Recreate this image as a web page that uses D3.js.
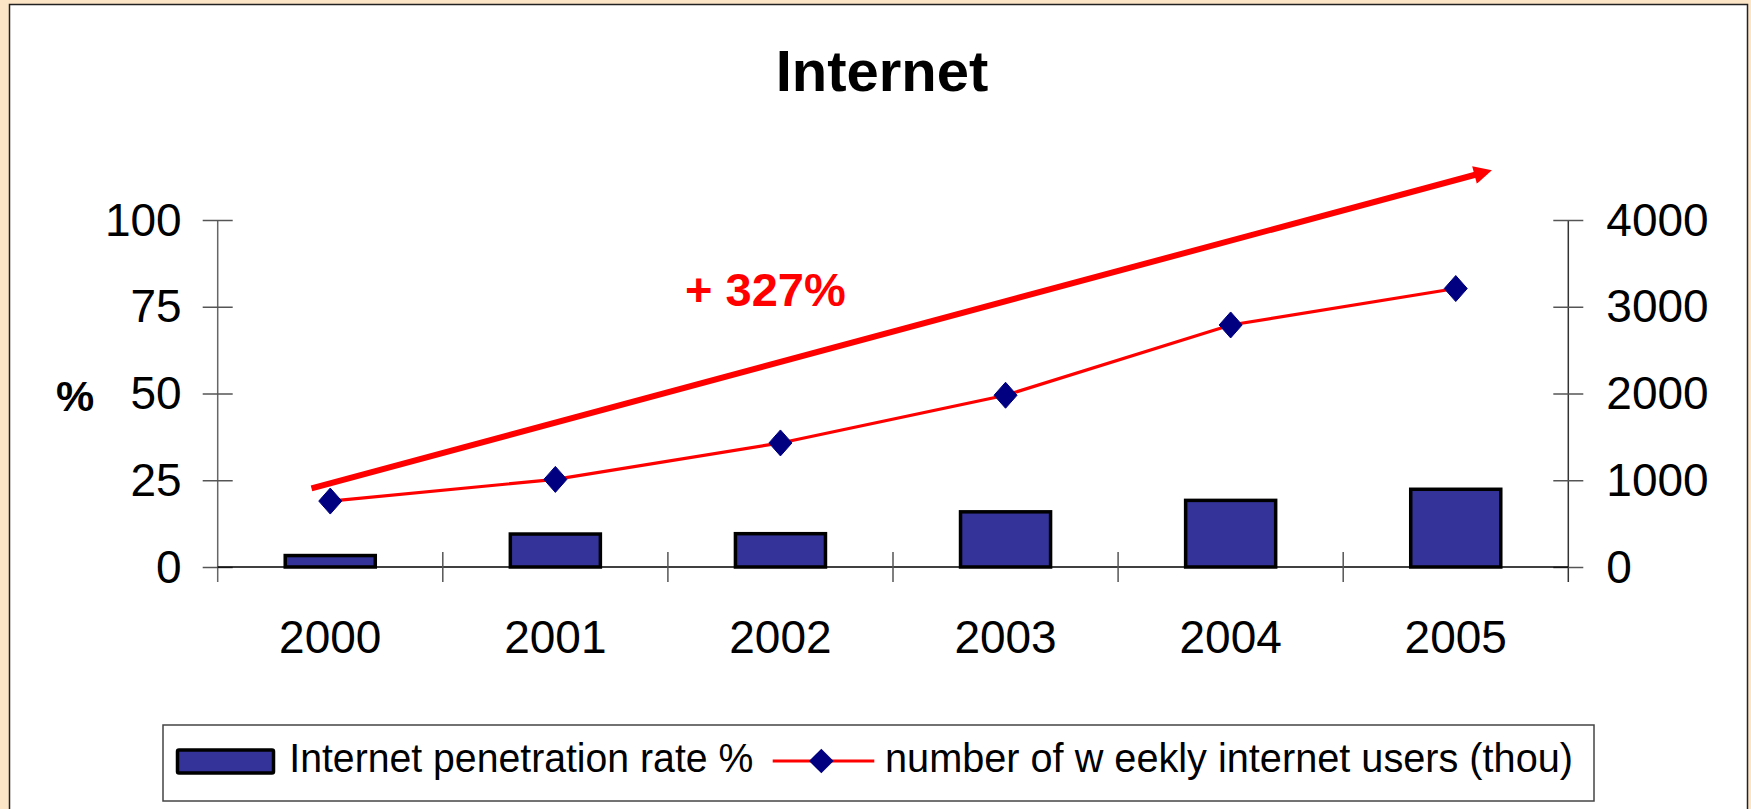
<!DOCTYPE html>
<html>
<head>
<meta charset="utf-8">
<script src="https://cdn.jsdelivr.net/npm/d3@7"></script>
<style>
html,body{margin:0;padding:0;background:#FCE5C7;}
svg{display:block;}
text{font-family:"Liberation Sans",Arial,sans-serif;}
</style>
</head>
<body>
<svg id="chart" width="1751" height="809"></svg>
<script>
const years = ["2000","2001","2002","2003","2004","2005"];
const penetration = [3.3, 9.5, 9.6, 15.9, 19.2, 22.4];
const weeklyUsers = [760, 1010, 1430, 1980, 2790, 3210];
const leftTicks = [0, 25, 50, 75, 100];
const rightTicks = [0, 1000, 2000, 3000, 4000];
const titleText = "Internet";
const growthLabel = "+ 327%";
const seriesNames = ["Internet penetration rate %", "number of w eekly internet users (thou)"];

(function(){
const svg = d3.select("#chart");
const W = 1751, H = 809;

svg.append("rect").attr("x",0).attr("y",0).attr("width",W).attr("height",H).attr("fill","#FCE5C7");
svg.append("rect").attr("x",9.5).attr("y",4.5).attr("width",1738).attr("height",820)
  .attr("fill","#fff").attr("stroke","#222").attr("stroke-width",1.5);

const pLeft = 217.7, pRight = 1568.3, pTop = 220, pBottom = 567;

const x = d3.scaleBand().domain(years).range([pLeft, pRight]).paddingInner(0).paddingOuter(0);
const yL = d3.scaleLinear().domain([0, 100]).range([pBottom, pTop]);
const yR = d3.scaleLinear().domain([0, 4000]).range([pBottom, pTop]);

svg.append("text").attr("x", 882).attr("y", 90.5).attr("text-anchor","middle")
  .attr("font-size", 58).attr("font-weight","bold").attr("fill","#000").text(titleText);

const gL = svg.append("g").attr("transform", `translate(${pLeft},0)`)
  .call(d3.axisLeft(yL).tickValues(leftTicks).tickFormat(d3.format("d")).tickSize(15).tickPadding(21));
gL.select(".domain").attr("stroke","#666").attr("stroke-width",1.5).attr("d", `M0,${pTop}V${pBottom+15}`);
gL.selectAll(".tick line").attr("x1", 15).attr("stroke","#555").attr("stroke-width",1.5);
gL.selectAll(".tick text").attr("font-size", 46).attr("fill","#000")
  .attr("font-family","Liberation Sans, Arial, sans-serif").attr("dy", null)
  .attr("transform","translate(0,15)");

const gR = svg.append("g").attr("transform", `translate(${pRight},0)`)
  .call(d3.axisRight(yR).tickValues(rightTicks).tickFormat(d3.format("d")).tickSize(15).tickPadding(23));
gR.select(".domain").attr("stroke","#333").attr("stroke-width",1.5).attr("d", `M0,${pTop}V${pBottom+15}`);
gR.selectAll(".tick line").attr("x1", -15).attr("stroke","#555").attr("stroke-width",1.5);
gR.selectAll(".tick text").attr("font-size", 46).attr("fill","#000")
  .attr("font-family","Liberation Sans, Arial, sans-serif").attr("dy", null)
  .attr("transform","translate(0,15)");

const gB = svg.append("g");
gB.append("line").attr("x1", pLeft).attr("x2", pRight).attr("y1", pBottom).attr("y2", pBottom)
  .attr("stroke","#000").attr("stroke-width",1.5);
const boundaries = years.map(d => x(d)).concat([x(years[years.length-1]) + x.bandwidth()]);
gB.selectAll("line.bt").data(boundaries.slice(1, -1)).join("line").attr("class","bt")
  .attr("x1", d => d).attr("x2", d => d).attr("y1", pBottom - 15).attr("y2", pBottom + 15)
  .attr("stroke","#555").attr("stroke-width",1.5);
gB.selectAll("text").data(years).join("text")
  .attr("x", d => x(d) + x.bandwidth()/2).attr("y", 653)
  .attr("text-anchor","middle").attr("font-size", 46).attr("fill","#000").text(d => d);

svg.append("text").attr("x", 75).attr("y", 411).attr("text-anchor","middle")
  .attr("font-size", 43).attr("font-weight","bold").attr("fill","#000").text("%");

const bw = x.bandwidth() * 0.4;
svg.append("g").selectAll("rect").data(years).join("rect")
  .attr("x", (d) => x(d) + x.bandwidth()/2 - bw/2)
  .attr("y", (d,i) => yL(penetration[i]))
  .attr("width", bw)
  .attr("height", (d,i) => pBottom - yL(penetration[i]))
  .attr("fill","#333399").attr("stroke","#000").attr("stroke-width",3.5);

const defs = svg.append("defs");
defs.append("marker").attr("id","ah").attr("viewBox","0 0 10 10").attr("refX",2).attr("refY",5)
  .attr("markerWidth",3.2).attr("markerHeight",3).attr("orient","auto").attr("markerUnits","strokeWidth")
  .append("path").attr("d","M0,0L10,5L0,10Z").attr("fill","#FF0000");
svg.append("line").attr("x1", 311.5).attr("y1", 488.3).attr("x2", 1478).attr("y2", 174)
  .attr("stroke","#FF0000").attr("stroke-width",6).attr("marker-end","url(#ah)");

svg.append("text").attr("x", 685).attr("y", 306).attr("font-size", 47).attr("font-weight","bold")
  .attr("fill","#FF0000").text(growthLabel);

const line = d3.line().x((d,i) => x(years[i]) + x.bandwidth()/2).y(d => yR(d));
svg.append("path").datum(weeklyUsers).attr("d", line).attr("fill","none")
  .attr("stroke","#FF0000").attr("stroke-width",3.2);
const diamond = (cx, cy, hw, hh) => `M${cx},${cy-hh}L${cx+hw},${cy}L${cx},${cy+hh}L${cx-hw},${cy}Z`;
svg.append("g").selectAll("path").data(weeklyUsers).join("path")
  .attr("d", (d,i) => diamond(x(years[i]) + x.bandwidth()/2, yR(d), 11.5, 13))
  .attr("fill","#000080").attr("stroke","#000080").attr("stroke-width",1).attr("stroke-linejoin","round");

const lg = svg.append("g");
lg.append("rect").attr("x",163).attr("y",725).attr("width",1431).attr("height",76)
  .attr("fill","#fff").attr("stroke","#444").attr("stroke-width",1.5);
lg.append("rect").attr("x",177.5).attr("y",750).attr("width",96).attr("height",23)
  .attr("fill","#333399").attr("stroke","#000").attr("stroke-width",3.5).attr("rx",1.5);
lg.append("text").attr("x",289.3).attr("y",771.5).attr("font-size",40).attr("fill","#000")
  .attr("textLength",464).attr("lengthAdjust","spacingAndGlyphs").text(seriesNames[0]);
lg.append("line").attr("x1",772.7).attr("x2",874.3).attr("y1",761).attr("y2",761)
  .attr("stroke","#FF0000").attr("stroke-width",3.2);
lg.append("path").attr("d", diamond(821.3, 761, 12.3, 12.3)).attr("fill","#000080");
lg.append("text").attr("x",885).attr("y",771.5).attr("font-size",40).attr("fill","#000")
  .attr("textLength",688).attr("lengthAdjust","spacingAndGlyphs").text(seriesNames[1]);
})();
</script>
</body>
</html>
